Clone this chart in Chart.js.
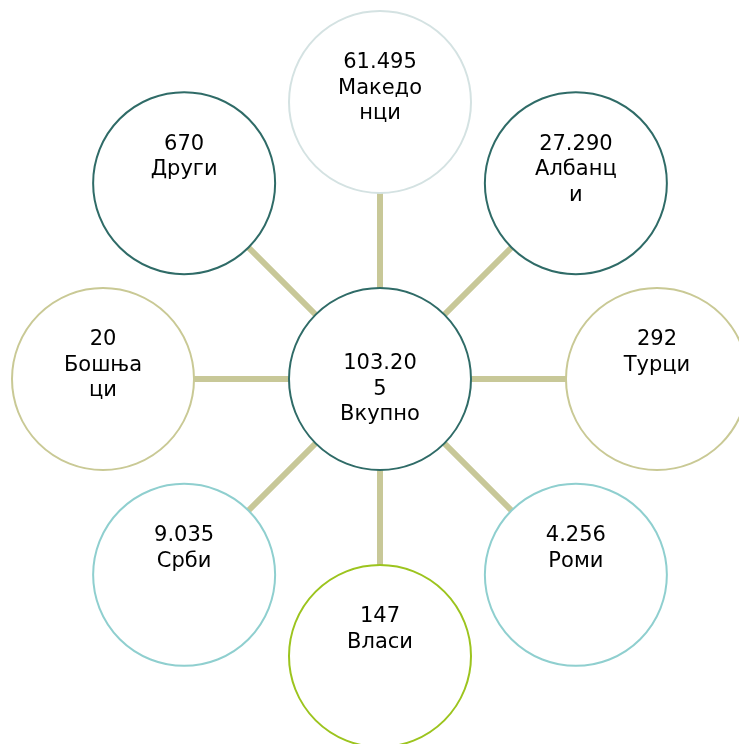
<!DOCTYPE html>
<html>
<head>
<meta charset="utf-8">
<script src="https://cdn.jsdelivr.net/npm/chart.js@4"></script>
<style>
  html, body { margin: 0; padding: 0; background: #fff; }
  canvas { display: block; }
</style>
</head>
<body>
<canvas id="diagram" width="739" height="744"></canvas>
<script>
// ---------------- Data ----------------
const totalLabel = "Вкупно";
const totalValue = 103205;

// clockwise from the top
const groupLabels = ["Македонци", "Албанци", "Турци", "Роми", "Власи", "Срби", "Бошњаци", "Други"];
const groupValues = [61495, 27290, 292, 4256, 147, 9035, 20, 670];
const groupColors = ["#d4e2e2", "#2f6b67", "#c9c995", "#8fcfcf", "#9cc41e", "#8fcfcf", "#c9c995", "#2f6b67"];

const centerColor = "#2f6b67";
const spokeColor = "#c8c898";

function formatNumber(n) {
    return String(n).replace(/\B(?=(\d{3})+(?!\d))/g, ".");
}

// nodes sit on a unit circle around the centre
const nodes = groupLabels.map((label, i) => {
    const a = Math.PI / 2 - i * Math.PI / 4;
    return { x: Math.cos(a), y: Math.sin(a), label: label, value: groupValues[i] };
});

const spokes = nodes.map(n => ({
    type: "line",
    data: [{ x: 0, y: 0 }, { x: n.x, y: n.y }],
    borderColor: spokeColor,
    borderWidth: 6,
    pointRadius: 0,
    order: 2,
    clip: false
}));

// draw the text inside each circle, wrapping by character like the original
const labelPlugin = {
    id: "circleLabels",
    afterDatasetsDraw(chart) {
        const ctx = chart.ctx;
        const meta = chart.getDatasetMeta(0);
        ctx.save();
        ctx.font = "21px 'DejaVu Sans'";
        ctx.fillStyle = "#000";
        ctx.textAlign = "center";
        ctx.textBaseline = "middle";

        function wrap(text, maxW) {
            const lines = [];
            let cur = "";
            for (const ch of text) {
                if (cur && ctx.measureText(cur + ch).width > maxW) {
                    lines.push(cur);
                    cur = ch;
                } else {
                    cur += ch;
                }
            }
            if (cur) lines.push(cur);
            return lines;
        }

        meta.data.forEach((el, i) => {
            const raw = chart.data.datasets[0].data[i];
            const lines = wrap(formatNumber(raw.value), 85).concat(wrap(raw.label, 85));
            const top = i === 0 ? el.y - 15 : el.y - 39;
            lines.forEach((ln, j) => ctx.fillText(ln, el.x, top + j * 25.5));
        });
        ctx.restore();
    }
};

const pointData = [{ x: 0, y: 0, label: totalLabel, value: totalValue }].concat(nodes);

new Chart(document.getElementById("diagram"), {
    type: "bubble",
    data: {
        datasets: [{
            data: pointData.map(p => ({ x: p.x, y: p.y, r: 91, label: p.label, value: p.value })),
            backgroundColor: "#ffffff",
            borderColor: [centerColor].concat(groupColors),
            borderWidth: 2,
            order: 1,
            clip: false
        }].concat(spokes)
    },
    options: {
        responsive: false,
        animation: false,
        events: [],
        layout: { padding: 0, autoPadding: false },
        plugins: { legend: { display: false }, tooltip: { enabled: false } },
        scales: {
            x: { display: false, min: -380 / 277, max: 359 / 277 },
            y: { display: false, min: -365 / 277, max: 379 / 277 }
        }
    },
    plugins: [labelPlugin]
});
</script>
</body>
</html>
